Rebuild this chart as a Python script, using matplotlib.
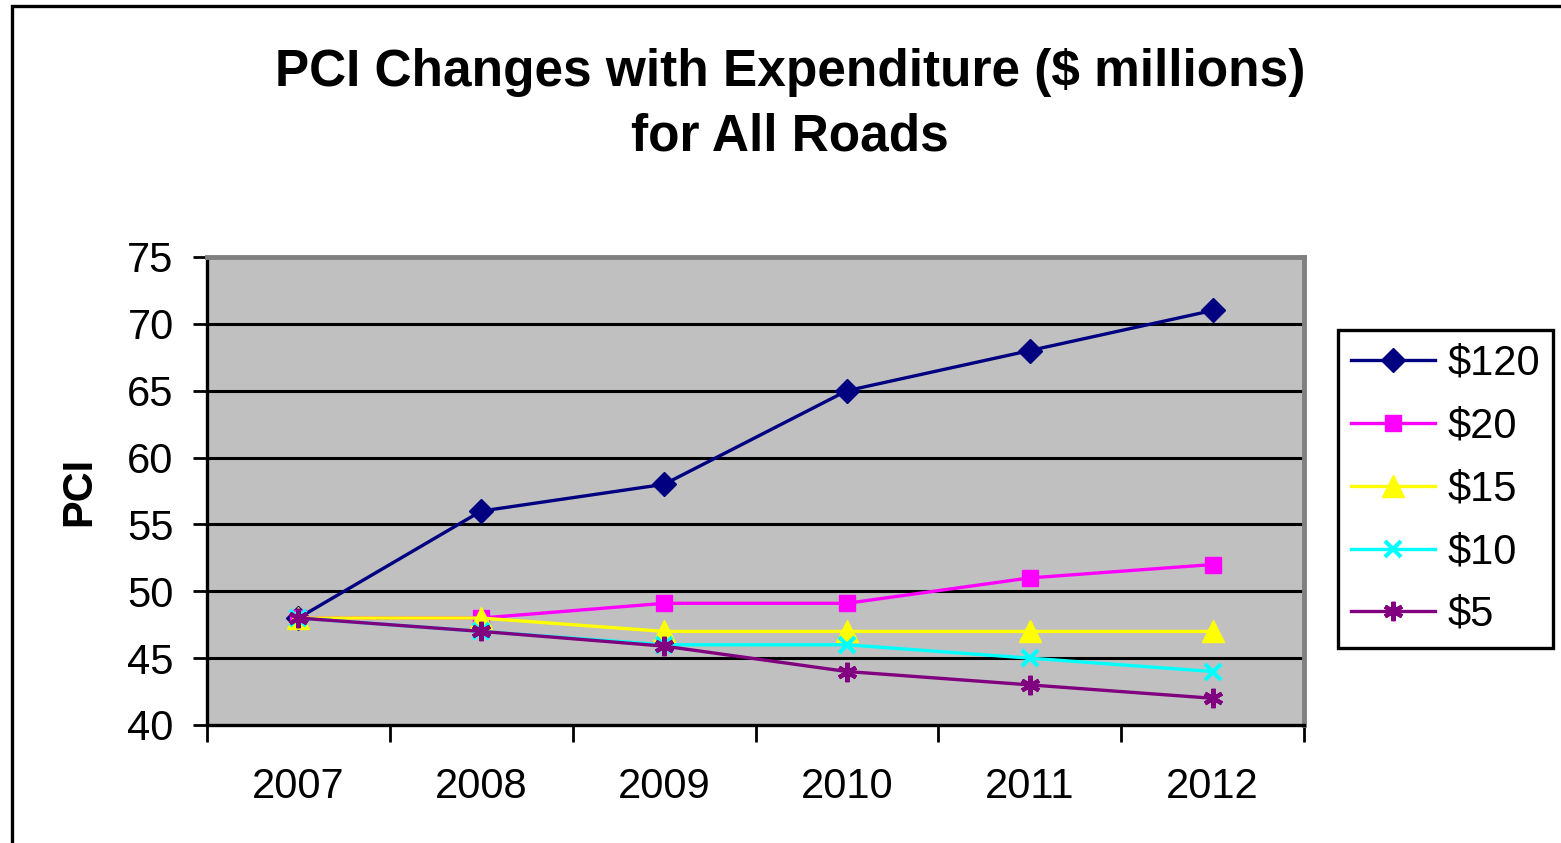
import matplotlib
matplotlib.use("Agg")
import matplotlib.pyplot as plt
from matplotlib.patches import Rectangle

plt.rcParams['font.family'] = ['Liberation Sans', 'DejaVu Sans']

years = ["2007", "2008", "2009", "2010", "2011", "2012"]
series_labels = ["$120", "$20", "$15", "$10", "$5"]
pci_120 = [48, 56, 58, 65, 68, 71]
pci_20 = [48, 48, 49.1, 49.1, 51, 52]
pci_15 = [48, 48, 47, 47, 47, 47]
pci_10 = [48, 47, 46, 46, 45, 44]
pci_5 = [48, 47, 45.9, 44, 43, 42]
y_ticks = [40, 45, 50, 55, 60, 65, 70, 75]

W, H = 1561, 843
fig = plt.figure(figsize=(W / 100, H / 100), dpi=100)
fig.patch.set_facecolor("white")

# outer chart frame (runs past the right and bottom edges)
fig.patches.append(Rectangle((12 / W, -0.05), 1.1, 1 - 6 / H + 0.05,
                             transform=fig.transFigure, fill=False,
                             edgecolor="black", linewidth=2.4, clip_on=False))

ax = fig.add_axes([207 / W, 1 - 725 / H, (1304 - 207) / W, (725 - 257) / H])
ax.set_facecolor("#C0C0C0")

x = list(range(len(years)))
styles = [
    (pci_120, "#000080", dict(marker="D", markersize=12)),
    (pci_20, "#FF00FF", dict(marker="s", markersize=12)),
    (pci_15, "#FFFF00", dict(marker="^", markersize=16)),
    (pci_10, "#00FFFF", dict(marker="x", markersize=12, markeredgewidth=3)),
    (pci_5, "#800080", dict(marker=(6, 2, 0), markersize=14, markeredgewidth=3)),
]
handles = []
for (vals, col, mk), lab in zip(styles, series_labels):
    h, = ax.plot(x, vals, color=col, linewidth=2.4, label=lab,
                 markerfacecolor=col, markeredgecolor=col, zorder=3, **mk)
    handles.append(h)

ax.set_xlim(-0.5, len(years) - 0.5)
ax.set_ylim(40, 75)
ax.set_yticks(y_ticks)
ax.set_yticklabels([str(v) for v in y_ticks], fontsize=30)
for v in y_ticks[1:-1]:
    ax.axhline(v, color="black", linewidth=2.2, zorder=1)

ax.set_xticks(x)
ax.set_xticklabels(years, fontsize=30)
ax.set_xticks([i - 0.5 for i in range(len(years) + 1)], minor=True)
ax.tick_params(axis="x", which="major", length=0, pad=30)
ax.tick_params(axis="x", which="minor", length=12, width=2, direction="out")
ax.tick_params(axis="y", length=10, width=2, direction="out", pad=14)

for side in ("left", "bottom"):
    ax.spines[side].set_color("black")
    ax.spines[side].set_linewidth(2.4)
for side in ("top", "right"):
    ax.spines[side].set_color("#808080")
    ax.spines[side].set_linewidth(3.5)

ax.set_ylabel("PCI", fontsize=30, fontweight="bold", labelpad=20)

fig.text(790 / W, 1 - 105 / H, "PCI Changes with Expenditure ($ millions)\nfor All Roads",
         ha="center", va="center", fontsize=37, fontweight="bold",
         linespacing=1.42)

leg = fig.legend(handles=handles, labels=series_labels, loc="upper left",
                 bbox_to_anchor=(1338 / W, 1 - 330 / H), borderaxespad=0,
                 fontsize=30, frameon=True, fancybox=False, framealpha=1,
                 edgecolor="black", handlelength=2.0, handletextpad=0.3,
                 labelspacing=0.55, borderpad=0.32)
leg.get_frame().set_linewidth(2.4)

fig.savefig("out.png", dpi=100)
